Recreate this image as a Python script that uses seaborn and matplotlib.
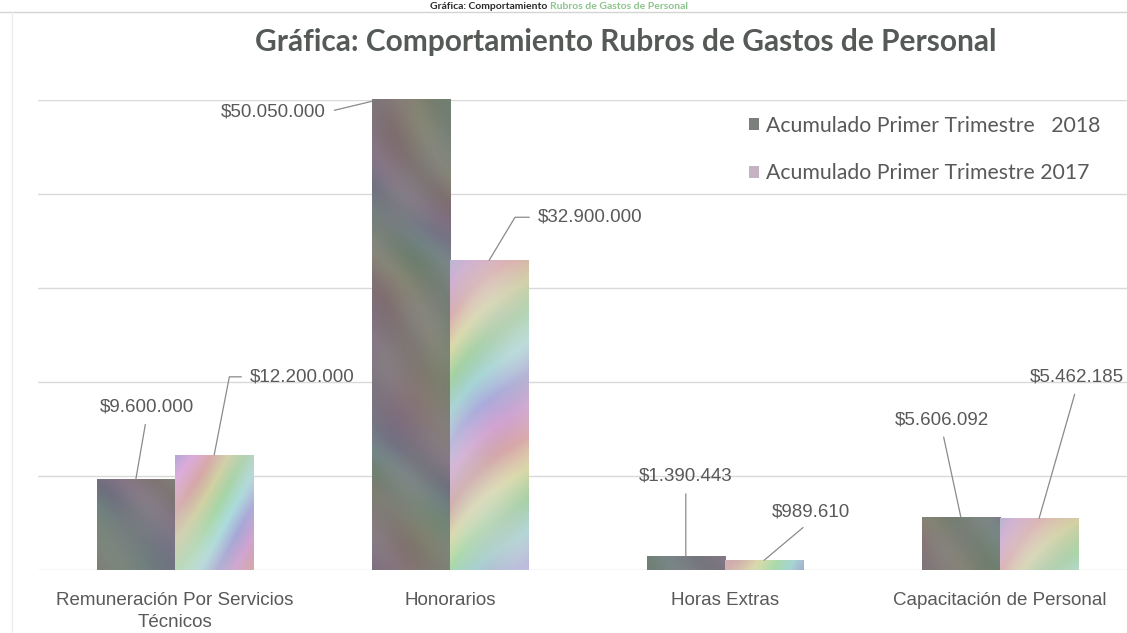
import numpy as np
import pandas as pd
import seaborn as sns
import matplotlib.pyplot as plt
from matplotlib.colors import hsv_to_rgb
from matplotlib.lines import Line2D

# --- datos ---
CATEGORIAS = ["Remuneración Por Servicios\nTécnicos", "Honorarios", "Horas Extras",
              "Capacitación de Personal"]
SERIES = ["Acumulado Primer Trimestre   2018", "Acumulado Primer Trimestre 2017"]
VALORES_2018 = [9600000, 50050000, 1390443, 5606092]
VALORES_2017 = [12200000, 32900000, 989610, 5462185]

TITULO = "Gráfica: Comportamiento Rubros de Gastos de Personal"
TITULO_CORTADO = ["Gráfica: Comportamiento ", "Rubros de Gastos de Personal"]
GRIS_TEXTO = "#595959"

sns.set_style("white")
plt.rcParams["font.family"] = ["Liberation Sans", "DejaVu Sans"]


def pesos(v):
    return "$" + f"{v:,}".replace(",", ".")


def textura(w, h, serie):
    # brillo iridiscente del escaneo (solo estilo)
    px, py = np.meshgrid(np.arange(w), np.arange(h))
    if serie == 0:
        fase = (px * 0.8 - py * 0.6) / 140.0 + 0.15 * np.sin(py / 40.0)
        hue = np.mod(fase, 1.0)
        sat = 0.10 + 0.03 * np.sin(px / 19.0 + py / 23.0)
        val = 0.51 + 0.015 * np.sin(px / 11.0 - py / 15.0)
    else:
        fase = (px + 0.8 * py) / 150.0 + 0.1 * np.sin(px / 30.0)
        hue = np.mod(fase, 1.0)
        sat = 0.18 + 0.04 * np.sin(px / 27.0 - py / 35.0)
        val = 0.84 + 0.02 * np.sin(px / 13.0 + py / 17.0)
    return hsv_to_rgb(np.dstack([hue, sat, val]))


df = pd.DataFrame({
    "rubro": CATEGORIAS * 2,
    "serie": [SERIES[0]] * len(CATEGORIAS) + [SERIES[1]] * len(CATEGORIAS),
    "valor": VALORES_2018 + VALORES_2017,
})
paleta = {SERIES[0]: "#7b807c", SERIES[1]: "#c5b3c3"}

fig = plt.figure(figsize=(11.27, 6.33), dpi=100)
ax = fig.add_axes([0.0333, 0.1003, 0.9667, 0.7425])

sns.barplot(data=df, x="rubro", y="valor", hue="serie", palette=paleta,
            width=0.57, gap=0, saturation=1, edgecolor="none", linewidth=0, ax=ax)

XLIM = (-0.5, 3.462)
YLIM = (0, 50000000)
ax.set_xlim(*XLIM)
ax.set_ylim(*YLIM)

# textura sobre cada barra
bb = ax.get_window_extent()
W, H = int(bb.width), int(bb.height)
for i, cont in enumerate(ax.containers):
    img = textura(W, H, i)
    for barra in cont:
        im = ax.imshow(img, extent=(XLIM[0], XLIM[1], YLIM[0], YLIM[1]), aspect="auto",
                       interpolation="bilinear", zorder=barra.get_zorder() + 0.1)
        im.set_clip_path(barra)
ax.set_xlim(*XLIM)
ax.set_ylim(*YLIM)

# etiquetas con línea guía: (dx, dy, ha, relpos, conexión, ancla)
ESTILO_ETIQ = [
    [(11, 72, "center", (0.5, 0), "arc3", "top"),
     (-46, -11, "right", (1, 0.5), "arc3", "left"),
     (0, 80, "center", (0.5, 0), "arc3", "top"),
     (-19, 97, "center", (0.5, 0), "arc3", "top")],
    [(36, 78, "left", (0, 0.5), "angle,angleA=0,angleB=79,rad=0", "top"),
     (49, 43, "left", (0, 0.5), "angle,angleA=0,angleB=59,rad=0", "top"),
     (47, 48, "center", (0.5, 0), "arc3", "top"),
     (38, 141, "center", (0.5, 0), "arc3", "top")],
]
for i, (cont, vals) in enumerate(zip(ax.containers, [VALORES_2018, VALORES_2017])):
    for j, (barra, v) in enumerate(zip(cont, vals)):
        dx, dy, ha, rel, con, ancla = ESTILO_ETIQ[i][j]
        if ancla == "left":
            xy = (barra.get_x(), v * 0.995)
        else:
            xy = (barra.get_x() + barra.get_width() / 2, v)
        ax.annotate(pesos(v), xy=xy, xytext=(dx, dy), textcoords="offset pixels",
                    ha=ha, va="center", fontsize=13.5, color=GRIS_TEXTO,
                    annotation_clip=False,
                    arrowprops=dict(arrowstyle="-", color="#8a8a8a", lw=0.9,
                                    relpos=rel, shrinkA=4, shrinkB=0,
                                    connectionstyle=con))

ax.set_yticks(np.arange(0, YLIM[1] + 1, 10000000))
ax.set_yticklabels([])
ax.yaxis.grid(True, color="#d9d9d9", lw=1)
ax.set_axisbelow(True)
ax.tick_params(axis="x", length=0, pad=16, labelsize=13.5, labelcolor=GRIS_TEXTO)
ax.tick_params(axis="y", length=0)
for t in ax.get_xticklabels():
    t.set_linespacing(1.4)
ax.set_xlabel("")
ax.set_ylabel("")
for s in ax.spines.values():
    s.set_visible(False)

sns.move_legend(ax, loc="upper left", bbox_to_anchor=(738 / 1127, 1 - 105 / 633),
                bbox_transform=fig.transFigure, frameon=False, title=None,
                handlelength=0.5, handleheight=0.5, handletextpad=0.3,
                labelspacing=1.3, borderpad=0,
                prop={"family": "Lato", "size": 15.3})
for t in ax.get_legend().get_texts():
    t.set_color(GRIS_TEXTO)

# título
fig.text(626 / 1127, 1 - 42 / 633, TITULO, ha="center", va="center",
         fontsize=21.5, fontweight="bold", family="Lato", color="#555a57")

# restos del escaneo: título cortado arriba y bordes
renderer = fig.canvas.get_renderer()
t1 = fig.text(430 / 1127, 1 - 9 / 633, TITULO_CORTADO[0], ha="left", va="baseline",
              fontsize=7.5, fontweight="bold", family="Lato", color="#2a2a2a")
x_fin = t1.get_window_extent(renderer).x1 / fig.bbox.width
fig.text(x_fin, 1 - 9 / 633, TITULO_CORTADO[1], ha="left", va="baseline",
         fontsize=7.5, fontweight="bold", family="Lato", color="#8cc48c")
fig.add_artist(Line2D([0, 1], [1 - 12 / 633] * 2, color="#d4d4d4", lw=1))
fig.add_artist(Line2D([12 / 1127] * 2, [0, 1 - 12 / 633], color="#ececec", lw=1))

fig.savefig("out.png", dpi=100)
